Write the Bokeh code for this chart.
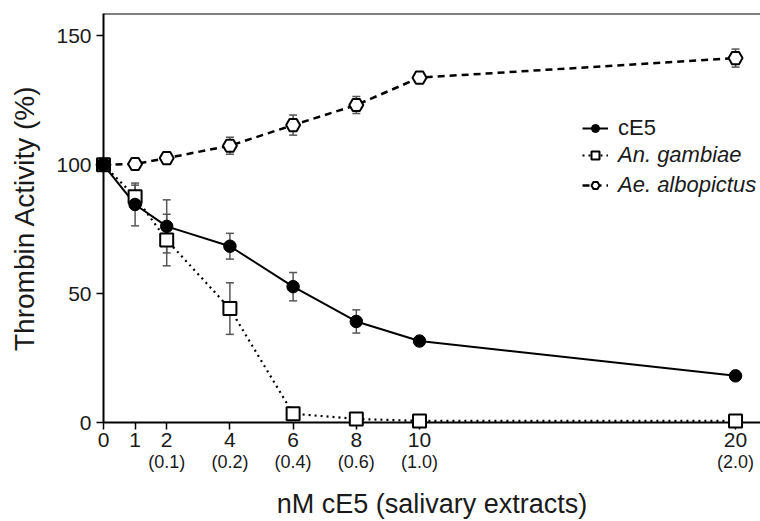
from bokeh.plotting import figure
from bokeh.models import Range1d, FixedTicker, LinearAxis, Span, Legend, LegendItem
from bokeh.embed import file_html
from bokeh.resources import INLINE

# ---- data ----
x_nm = [0, 1, 2, 4, 6, 8, 10, 20]
ce5 = [100, 84.6, 76.1, 68.4, 52.7, 39.2, 31.6, 18.1]
ce5_err = [0, 8.3, 10.3, 5.0, 5.5, 4.5, 1.0, 1.0]
gambiae = [100, 87.6, 70.8, 44.2, 3.4, 1.4, 0.6, 0.6]
gambiae_err = [0, 4.5, 10.0, 10.0, 0.5, 0.5, 0.5, 0.5]
albopictus = [100, 100.3, 102.6, 107.4, 115.4, 123.2, 133.8, 141.4]
albopictus_err = [0, 1.5, 1.5, 3.3, 3.9, 3.3, 1.5, 3.5]

x_ticks = [0, 1, 2, 4, 6, 8, 10, 20]
salivary_ticks = [2, 4, 6, 8, 10, 20]
salivary_labels = ["(0.1)", "(0.2)", "(0.4)", "(0.6)", "(1.0)", "(2.0)"]
y_ticks = [0, 50, 100, 150]

FONT = "Liberation Sans"
TXT = "#1a1a1a"
ERR = "#555555"

p = figure(width=760, height=521, output_backend="svg", toolbar_location=None,
           x_range=Range1d(0, 20.79), y_range=Range1d(0, 158.7),
           min_border_left=103, min_border_right=0, min_border_top=13, min_border_bottom=98)
p.grid.visible = False
p.outline_line_color = None
p.background_fill_color = "white"
p.border_fill_color = "white"

# primary axes
xa = p.xaxis[0]
xa.ticker = FixedTicker(ticks=x_ticks)
ya = p.yaxis[0]
ya.ticker = FixedTicker(ticks=y_ticks)
for ax in (xa, ya):
    ax.axis_line_width = 2
    ax.axis_line_color = "black"
    ax.major_tick_line_width = 1.5
    ax.major_tick_line_color = "black"
    ax.major_tick_out = 7
    ax.major_tick_in = 0
    ax.minor_tick_line_color = None
    ax.major_label_text_font = FONT
    ax.major_label_text_font_size = "21px"
    ax.major_label_text_color = TXT
    ax.axis_label_text_font = FONT
    ax.axis_label_text_font_style = "normal"
    ax.axis_label_text_color = TXT
xa.major_label_standoff = 3
ya.major_label_standoff = 5
ya.axis_label = "Thrombin Activity (%)"
ya.axis_label_text_font_size = "28px"
ya.axis_label_standoff = 13

# secondary x labels (salivary extract amounts)
xa2 = LinearAxis(ticker=FixedTicker(ticks=salivary_ticks),
                 major_label_overrides={t: s for t, s in zip(salivary_ticks, salivary_labels)},
                 axis_line_color=None, major_tick_line_color=None, minor_tick_line_color=None,
                 major_tick_out=0, major_tick_in=0, major_label_standoff=2,
                 major_label_text_font=FONT, major_label_text_font_size="18px",
                 major_label_text_color=TXT,
                 axis_label="nM cE5 (salivary extracts)", axis_label_standoff=14,
                 axis_label_text_font=FONT, axis_label_text_font_style="normal",
                 axis_label_text_font_size="27px", axis_label_text_color=TXT)
p.add_layout(xa2, "below")

# top border line
p.add_layout(Span(location=158.7, dimension="width", line_color="black", line_width=2))

# lines
l_ce5 = p.line(x_nm, ce5, line_color="black", line_width=2)
l_gam = p.line(x_nm, gambiae, line_color="black", line_width=2.2, line_dash="2 4")
l_alb = p.line(x_nm, albopictus, line_color="black", line_width=2.5, line_dash="7 5")

# error bars
for ys, es in ((ce5, ce5_err), (gambiae, gambiae_err), (albopictus, albopictus_err)):
    lo = [v - e for v, e in zip(ys, es)]
    hi = [v + e for v, e in zip(ys, es)]
    r = p.segment(x0=x_nm, y0=lo, x1=x_nm, y1=hi, line_color=ERR, line_width=1.5)
    r.level = "overlay"
    r1 = p.scatter(x_nm, lo, marker="dash", size=8, line_color=ERR, line_width=1.5)
    r2 = p.scatter(x_nm, hi, marker="dash", size=8, line_color=ERR, line_width=1.5)
    r1.level = "overlay"
    r2.level = "overlay"

m_gam = p.scatter(x_nm, gambiae, marker="square", size=13, fill_color="white",
                  line_color="black", line_width=2)
m_alb = p.scatter(x_nm, albopictus, marker="hex", size=14, fill_color="white",
                  line_color="black", line_width=2)
m_ce5 = p.scatter(x_nm, ce5, marker="circle", size=12.5, fill_color="black",
                  line_color="black", line_width=1)
for r in (l_ce5, l_gam, l_alb, m_gam, m_alb, m_ce5):
    r.level = "overlay"

common = dict(padding=0, margin=0, border_line_color=None, background_fill_alpha=0,
              glyph_width=26, glyph_height=20, label_height=20, label_standoff=10,
              label_text_font=FONT, label_text_font_size="22px", label_text_color=TXT,
              spacing=4)
leg1 = Legend(items=[LegendItem(label="cE5", renderers=[l_ce5, m_ce5])],
              location=(479, 281), label_text_font_style="normal", **common)
leg2 = Legend(items=[LegendItem(label="An. gambiae", renderers=[l_gam, m_gam]),
                     LegendItem(label="Ae. albopictus", renderers=[l_alb, m_alb])],
              location=(479, 224), label_text_font_style="italic", **common)
p.add_layout(leg1, "center")
p.add_layout(leg2, "center")

open("out.html", "w").write(file_html(p, INLINE))
